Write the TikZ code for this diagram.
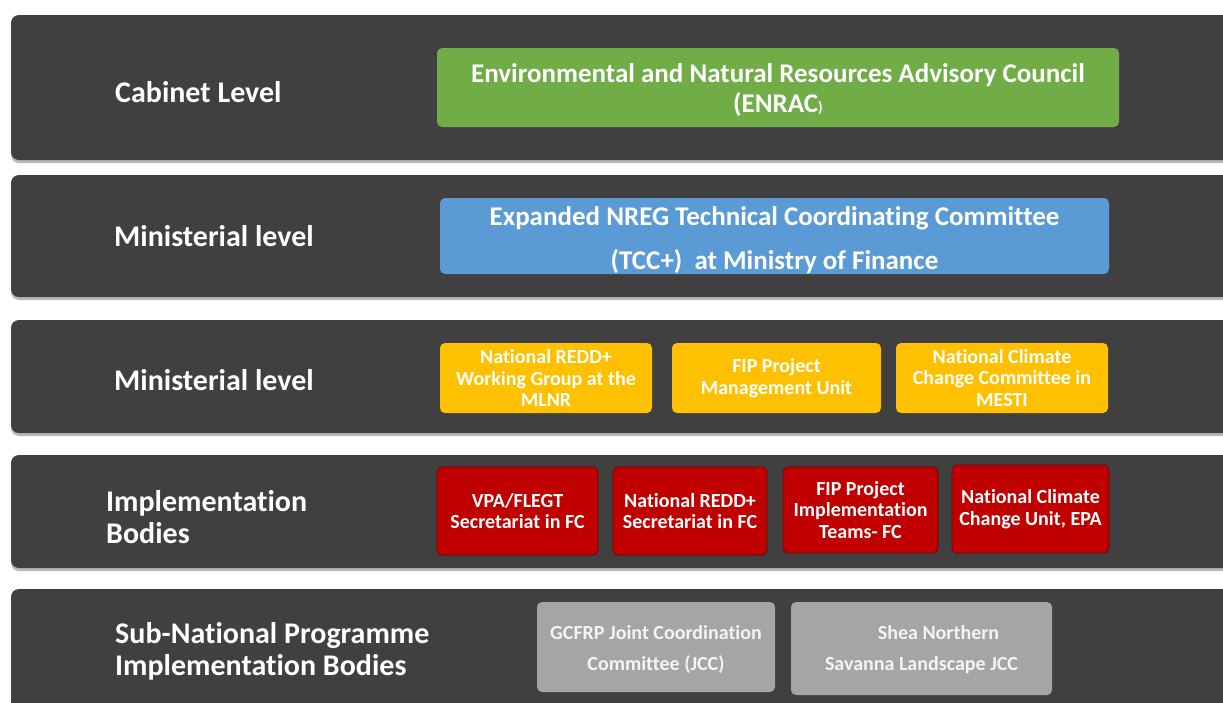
\documentclass[tikz,border=0pt]{standalone}
\usepackage{fontspec}
\setmainfont[RawFeature=-liga]{Carlito}
\definecolor{bandgray}{HTML}{404040}
\definecolor{bandshadow}{HTML}{B8B8B8}
\definecolor{cabgreen}{HTML}{70AD47}
\definecolor{minblue}{HTML}{5B9BD5}
\definecolor{minyellow}{HTML}{FFC000}
\definecolor{implred}{HTML}{C00000}
\definecolor{implredline}{HTML}{7A0000}
\definecolor{subgray}{HTML}{A5A5A5}
\definecolor{subtext}{HTML}{F4F4F4}
\begin{document}
\begin{tikzpicture}[x=1pt,y=-1pt,
  band/.style={fill=bandgray,rounded corners=8pt},
  bandshade/.style={fill=bandshadow,rounded corners=8pt},
  levellabel/.style={anchor=west,text=white,inner sep=0pt,align=left,
    font={\bfseries\fontsize{30}{31.5}\selectfont}},
  unit/.style={rounded corners=5pt,text=white,inner sep=0pt,align=center,
    font={\bfseries\fontsize{20}{21.5}\selectfont}},
  boxtext/.style={text=white,inner sep=0pt,align=center},
  greenbox/.style={unit,fill=cabgreen},
  greentext/.style={boxtext,font={\bfseries\fontsize{27}{30}\selectfont}},
  bluebox/.style={unit,fill=minblue},
  bluetext/.style={boxtext,font={\bfseries\fontsize{27}{44}\selectfont}},
  yellowbox/.style={unit,fill=minyellow},
  redbox/.style={unit,fill=implred,draw=implredline,line width=0.8pt},
  graybox/.style={unit,fill=subgray},
  graytext/.style={boxtext,text=subtext,font={\bfseries\fontsize{20}{31}\selectfont}},
]
\clip (0,0) rectangle (1223,702);
\fill[white] (0,0) rectangle (1223,702);

% level bands with a soft shadow underneath
\foreach \top/\bot in {15/160, 175/297, 320/433, 455/568, 589/730}{
  \fill[bandshade] (11,\top+3) rectangle (1245,\bot+3);
  \fill[band] (11,\top) rectangle (1245,\bot);
}

% level titles
\node[levellabel] (lcab) at (115,92) {Cabinet Level};
\node[levellabel] (lmin1) at (114,236) {Ministerial level};
\node[levellabel] (lmin2) at (114,380) {Ministerial level};
\node[levellabel] (limpl) at (106,517) {Implementation\\Bodies};
\node[levellabel] (lsub) at (115,651.5) {Sub-National Programme\\Implementation Bodies};

% cabinet level
\node[greenbox,minimum width=682pt,minimum height=79pt] (enrac) at (778,87.5) {};
\node[greentext] (enractxt) at ([yshift=-2.5pt]enrac.center)
  {Environmental and Natural Resources Advisory Council\\(ENRAC{\fontsize{15}{15}\selectfont)}};

% ministerial level
\node[bluebox,minimum width=669pt,minimum height=76pt] (tcc) at (774.5,236) {};
\node[bluetext] (tcctxt) at ([yshift=-4pt]tcc.center)
  {Expanded NREG Technical Coordinating Committee\\(TCC+)~ at Ministry of Finance};

\node[yellowbox,minimum width=212pt,minimum height=70pt] (redwg) at (546,378)
  {National REDD+\\Working Group at the\\MLNR};
\node[yellowbox,minimum width=209pt,minimum height=70pt] (fippmu) at (776.5,378)
  {FIP Project\\Management Unit};
\node[yellowbox,minimum width=212pt,minimum height=70pt] (nccc) at (1002,378)
  {National Climate\\Change Committee in\\MESTI};

% implementation bodies
\node[redbox,minimum width=161pt,minimum height=88pt] (vpa) at (517.5,511)
  {VPA/FLEGT\\Secretariat in FC};
\node[redbox,minimum width=154pt,minimum height=88pt] (redsec) at (690,511)
  {National REDD+\\Secretariat in FC};
\node[redbox,minimum width=155pt,minimum height=86pt] (fipit) at (860.5,510)
  {FIP Project\\Implementation\\Teams- FC};
\node[redbox,minimum width=157pt,minimum height=88pt] (nccu) at (1030.5,509)
  {National Climate\\Change Unit, EPA};

% sub-national programme implementation bodies
\node[graybox,minimum width=238pt,minimum height=90pt] (gcfrp) at (656,647) {};
\node[graytext] (gcfrptxt) at ([yshift=-2pt]gcfrp.center)
  {GCFRP Joint Coordination\\Committee (JCC)};
\node[graybox,minimum width=261pt,minimum height=93pt] (shea) at (921.5,648.5) {};
\node[graytext] (sheatxt) at ([yshift=-1pt]shea.center)
  {\hspace*{34pt}Shea Northern\\Savanna Landscape JCC};
\end{tikzpicture}
\end{document}
